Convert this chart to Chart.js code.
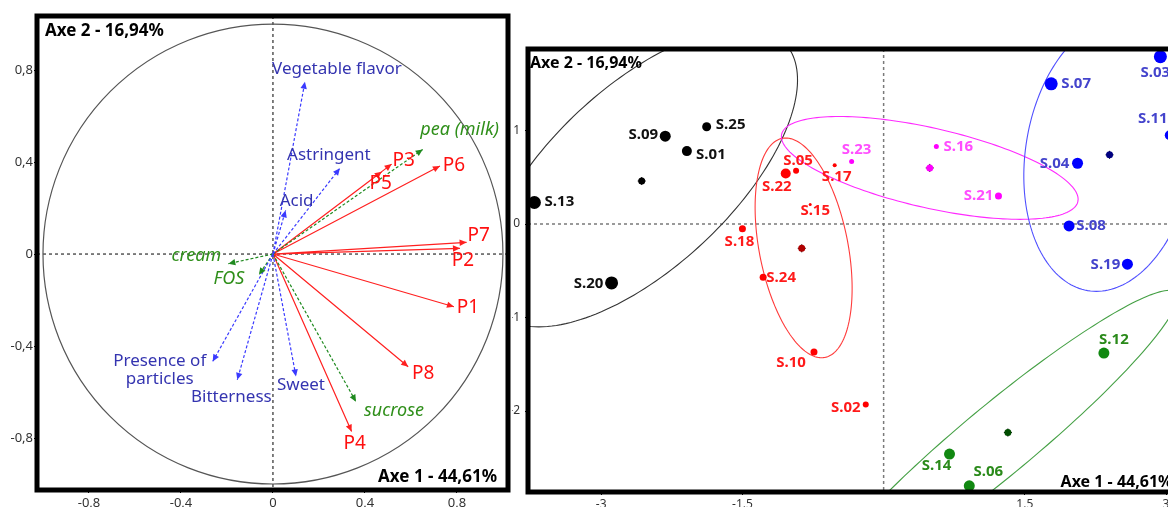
<!DOCTYPE html>
<html>
<head>
<meta charset="utf-8">
<script src="https://cdn.jsdelivr.net/npm/chart.js@4.4.1/dist/chart.umd.min.js"></script>
<style>
  html, body { margin: 0; padding: 0; background: #fff; overflow: hidden; }
  body { width: 1168px; height: 507px; position: relative; }
  #corrChart { position: absolute; left: 0; top: 0; }
  #scoreChart { position: absolute; left: 512px; top: 0; }
</style>
</head>
<body>
<canvas id="corrChart" width="512" height="507"></canvas>
<canvas id="scoreChart" width="677" height="507"></canvas>
<script>
// ---- Correlation circle (variables on axes 1 and 2) ----
const productNames = ['P1', 'P2', 'P3', 'P4', 'P5', 'P6', 'P7', 'P8'];
const productX = [0.787, 0.813, 0.516, 0.342, 0.473, 0.726, 0.842, 0.588];
const productY = [-0.229, 0.025, 0.391, -0.772, 0.358, 0.383, 0.051, -0.490];

const sensoryNames = ['Vegetable flavor', 'Astringent', 'Acid', 'Sweet', 'Bitterness', 'Presence of\nparticles'];
const sensoryX = [0.139, 0.291, 0.055, 0.100, -0.155, -0.262];
const sensoryY = [0.749, 0.373, 0.190, -0.532, -0.547, -0.467];

const ingredientNames = ['pea (milk)', 'sucrose', 'cream', 'FOS'];
const ingredientX = [0.651, 0.361, -0.194, -0.061];
const ingredientY = [0.455, -0.642, -0.042, -0.090];

const corrTicks = [-0.8, -0.4, 0, 0.4, 0.8];
const corrTickLabels = ['-0,8', '-0,4', '0', '0,4', '0,8'];

// label placement (pixel offset of text centre from arrow tip)
const productLabelOffset = [[14, 1], [3, 12], [12, -4], [3, 12], [-1, 12], [14, 0], [12, -7], [15, 7]];
const sensoryLabelOffset = [[32, -13], [-11, -13], [11, -9], [5, 9], [-6, 17], [-53, 9]];
const ingredientLabelOffset = [[37, -20], [38, 9], [-32, -8], [-30, 4]];

// ---- Individuals map (samples on axes 1 and 2) ----
const sampleNames = ['S.01', 'S.02', 'S.03', 'S.04', 'S.05', 'S.06', 'S.07', 'S.08', 'S.09', 'S.10',
  'S.11', 'S.12', 'S.13', 'S.14', 'S.15', 'S.16', 'S.17', 'S.18', 'S.19', 'S.20',
  'S.21', 'S.22', 'S.23', 'S.24', 'S.25'];
const sampleX = [-2.09, -0.19, 2.94, 2.06, -0.93, 0.91, 1.78, 1.97, -2.32, -0.74,
  3.04, 2.34, -3.71, 0.70, -0.78, 0.56, -0.52, -1.50, 2.59, -2.89,
  1.22, -1.04, -0.34, -1.28, -1.88];
const sampleY = [0.78, -1.93, 1.79, 0.65, 0.57, -2.80, 1.50, -0.02, 0.94, -1.37,
  0.95, -1.38, 0.23, -2.46, 0.21, 0.83, 0.63, -0.05, -0.43, -0.63,
  0.30, 0.54, 0.67, -0.57, 1.04];
// cluster of each sample: 0 black, 1 red, 2 magenta, 3 blue, 4 green
const sampleGroup = [0, 1, 3, 3, 1, 4, 3, 3, 0, 1,
  3, 4, 0, 4, 1, 2, 1, 1, 3, 0,
  2, 1, 2, 1, 0];

const centroidX = [-2.57, -0.87, 0.49, 2.40, 1.32];
const centroidY = [0.46, -0.26, 0.60, 0.74, -2.23];

// confidence ellipses: centre and two conjugate semi-diameters (a along x, b)
const ellipseCX = [-2.58, -0.85, 0.49, 2.40, 1.22];
const ellipseCY = [0.50, -0.255, 0.60, 0.74, -2.31];
const ellipseAX = [1.265, 0.479, 1.25, 0.90, 0.58];
const ellipseBX = [1.083, -0.19, -0.96, 0.14, 1.81];
const ellipseBY = [1.60, 1.175, 0.55, 1.46, 1.60];

const scoreXTicks = [-3, -1.5, 1.5, 3];
const scoreXTickLabels = ['-3', '-1.5', '1.5', '3'];
const scoreYTicks = [-2, -1, 0, 1];
const scoreYTickLabels = ['-2', '-1', '0', '1'];

// styles
const sampleRadius = [5, 3, 6.5, 5.5, 3, 5.5, 6.5, 5.5, 5.5, 3.5,
  5, 5.5, 6.5, 5.5, 1.5, 2.5, 2, 3.5, 5.5, 6.5,
  3.5, 5, 2.5, 3.5, 4.5];
const sampleLabelOffset = [[24, 4], [-20, 3], [-5, 16], [-23, 0], [2, -10], [19, -14], [25, 0], [22, 0], [-22, -1], [-23, 11],
  [-17, -16], [10, -13], [25, -1], [-13, 12], [5, 6], [22, 0], [2, 12], [-3, 13], [-22, 0], [-23, 1],
  [-20, 0], [-9, 13], [5, -12], [18, 0], [24, -2]];
const groupDotColor = ['#000000', '#ff0000', '#ff00ff', '#0000ff', '#118811'];
const groupLabelColor = ['#111111', '#ff1a1a', '#ff4dff', '#4444cc', '#2a8a1a'];
const groupEllipseColor = ['#333333', '#ff3b3b', '#ff2aff', '#5050ff', '#45a045'];
const centroidColor = ['#000000', '#b00000', '#ff00ff', '#000080', '#004d00'];

Chart.defaults.font.family = '"Noto Sans", sans-serif';
Chart.defaults.animation = false;

function vectorSegments(xs, ys) {
  const pts = [];
  xs.forEach((x, i) => {
    pts.push({ x: 0, y: 0 }, { x: x, y: ys[i] }, { x: null, y: null });
  });
  return pts;
}

function drawText(ctx, text, x, y, font, color, align) {
  ctx.save();
  ctx.font = font;
  ctx.fillStyle = color;
  ctx.textAlign = align || 'center';
  ctx.textBaseline = 'middle';
  const lines = text.split('\n');
  const lh = 18;
  const y0 = y - (lines.length - 1) * lh / 2;
  lines.forEach((l, i) => ctx.fillText(l, x, y0 + i * lh));
  ctx.restore();
}

function drawFrame(ctx, area) {
  ctx.save();
  ctx.strokeStyle = '#000';
  ctx.lineWidth = 5;
  ctx.strokeRect(area.left, area.top, area.right - area.left, area.bottom - area.top);
  ctx.restore();
}

const arrowGroups = [
  { names: sensoryNames, xs: sensoryX, ys: sensoryY, offs: sensoryLabelOffset, color: '#3a3aff', text: '#3434b0', font: '17px "Noto Sans"', dash: [3, 2] },
  { names: ingredientNames, xs: ingredientX, ys: ingredientY, offs: ingredientLabelOffset, color: '#1f8a1f', text: '#2f8f1a', font: 'italic 18px "Noto Sans"', dash: [3, 2] },
  { names: productNames, xs: productX, ys: productY, offs: productLabelOffset, color: '#ff2020', text: '#ff1010', font: '19px "Noto Sans"', dash: [] }
];

const circlePlugin = {
  id: 'circlePlugin',
  beforeDatasetsDraw(chart) {
    const { ctx, chartArea: a, scales: { x, y } } = chart;
    const cx = x.getPixelForValue(0), cy = y.getPixelForValue(0);
    ctx.save();
    ctx.strokeStyle = '#000';
    ctx.lineWidth = 1;
    ctx.setLineDash([3, 3]);
    ctx.beginPath();
    ctx.moveTo(cx, a.top); ctx.lineTo(cx, a.bottom);
    ctx.moveTo(a.left, cy); ctx.lineTo(a.right, cy);
    ctx.stroke();
    ctx.setLineDash([]);
    ctx.strokeStyle = '#555';
    ctx.lineWidth = 1.2;
    ctx.beginPath();
    ctx.ellipse(cx, cy, x.getPixelForValue(1) - cx, cy - y.getPixelForValue(1), 0, 0, Math.PI * 2);
    ctx.stroke();
    ctx.restore();
  },
  afterDatasetsDraw(chart) {
    const { ctx, scales: { x, y } } = chart;
    const ox = x.getPixelForValue(0), oy = y.getPixelForValue(0);
    arrowGroups.forEach(g => {
      g.xs.forEach((vx, i) => {
        const tx = x.getPixelForValue(vx), ty = y.getPixelForValue(g.ys[i]);
        const ang = Math.atan2(ty - oy, tx - ox);
        const L = 7, W = 3.2;
        ctx.save();
        ctx.fillStyle = g.color;
        ctx.beginPath();
        ctx.moveTo(tx, ty);
        ctx.lineTo(tx - L * Math.cos(ang) - W * Math.sin(ang), ty - L * Math.sin(ang) + W * Math.cos(ang));
        ctx.lineTo(tx - L * Math.cos(ang) + W * Math.sin(ang), ty - L * Math.sin(ang) - W * Math.cos(ang));
        ctx.closePath();
        ctx.fill();
        ctx.restore();
        drawText(ctx, g.names[i], tx + g.offs[i][0], ty + g.offs[i][1], g.font, g.text);
      });
    });
  },
  afterDraw(chart) {
    const { ctx, chartArea: a } = chart;
    drawFrame(ctx, a);
    drawText(ctx, 'Axe 2 - 16,94%', a.left + 8, a.top + 15, 'bold 17px "Noto Sans"', '#000', 'left');
    drawText(ctx, 'Axe 1 - 44,61%', a.right - 11, a.bottom - 13, 'bold 17px "Noto Sans"', '#000', 'right');
  }
};

new Chart(document.getElementById('corrChart'), {
  type: 'scatter',
  data: {
    datasets: arrowGroups.map(g => ({
      data: vectorSegments(g.xs, g.ys),
      showLine: true,
      spanGaps: false,
      borderColor: g.color,
      borderWidth: 1.2,
      borderDash: g.dash,
      pointRadius: 0
    }))
  },
  options: {
    responsive: false,
    devicePixelRatio: 1,
    events: [],
    layout: { padding: { top: 16, right: 4, left: 0, bottom: 0 } },
    plugins: { legend: { display: false }, tooltip: { enabled: false } },
    scales: {
      x: {
        type: 'linear', min: -1.026, max: 1.022,
        afterBuildTicks: s => { s.ticks = corrTicks.map(v => ({ value: v })); },
        afterFit: s => { s.height = 17; },
        grid: { drawOnChartArea: false, tickLength: 3, color: '#000' },
        border: { display: false },
        ticks: { padding: 2, color: '#333', font: { size: 13 }, callback: (v, i) => corrTickLabels[i] }
      },
      y: {
        type: 'linear', min: -1.026, max: 1.035,
        afterBuildTicks: s => { s.ticks = corrTicks.map(v => ({ value: v })); },
        afterFit: s => { s.width = 37; },
        grid: { drawOnChartArea: false, tickLength: 3, color: '#000' },
        border: { display: false },
        ticks: { padding: 1, color: '#333', font: { size: 13 }, callback: (v, i) => corrTickLabels[i] }
      }
    }
  },
  plugins: [circlePlugin]
});

// ---- Individuals map ----
const scorePlugin = {
  id: 'scorePlugin',
  beforeDatasetsDraw(chart) {
    const { ctx, chartArea: a, scales: { x, y } } = chart;
    ctx.save();
    ctx.beginPath();
    ctx.rect(a.left, a.top, a.right - a.left, a.bottom - a.top);
    ctx.clip();
    const cx = x.getPixelForValue(0), cy = y.getPixelForValue(0);
    ctx.strokeStyle = '#7a7a7a';
    ctx.lineWidth = 1.5;
    ctx.setLineDash([3, 3]);
    ctx.beginPath();
    ctx.moveTo(cx, a.top); ctx.lineTo(cx, a.bottom);
    ctx.moveTo(a.left, cy); ctx.lineTo(a.right, cy);
    ctx.stroke();
    ctx.setLineDash([]);
    ellipseCX.forEach((ex, g) => {
      ctx.strokeStyle = groupEllipseColor[g];
      ctx.lineWidth = 1.1;
      ctx.beginPath();
      for (let k = 0; k <= 180; k++) {
        const t = k / 180 * Math.PI * 2;
        const px = x.getPixelForValue(ex + ellipseAX[g] * Math.cos(t) + ellipseBX[g] * Math.sin(t));
        const py = y.getPixelForValue(ellipseCY[g] + ellipseBY[g] * Math.sin(t));
        if (k === 0) ctx.moveTo(px, py); else ctx.lineTo(px, py);
      }
      ctx.stroke();
    });
    ctx.restore();
  },
  afterDatasetsDraw(chart) {
    const { ctx, scales: { x, y } } = chart;
    sampleNames.forEach((name, i) => {
      const px = x.getPixelForValue(sampleX[i]), py = y.getPixelForValue(sampleY[i]);
      drawText(ctx, name, px + sampleLabelOffset[i][0], py + sampleLabelOffset[i][1],
        'bold 15px "Noto Sans"', groupLabelColor[sampleGroup[i]]);
    });
  },
  afterDraw(chart) {
    const { ctx, chartArea: a } = chart;
    drawFrame(ctx, a);
    drawText(ctx, 'Axe 2 - 16,94%', a.left + 2, a.top + 14, 'bold 16px "Noto Sans"', '#000', 'left');
    drawText(ctx, 'Axe 1 - 44,61%', a.right - 10, a.bottom - 10, 'bold 16px "Noto Sans"', '#000', 'right');
  }
};

const groupDatasets = groupDotColor.map((col, g) => {
  const idx = sampleNames.map((_, i) => i).filter(i => sampleGroup[i] === g);
  return {
    data: idx.map(i => ({ x: sampleX[i], y: sampleY[i] })),
    pointRadius: idx.map(i => sampleRadius[i]),
    pointBackgroundColor: col,
    pointBorderWidth: 0,
    showLine: false
  };
});

new Chart(document.getElementById('scoreChart'), {
  type: 'scatter',
  data: {
    datasets: [
      ...groupDatasets,
      {
        data: centroidX.map((cx, g) => ({ x: cx, y: centroidY[g] })),
        pointRadius: 3.5,
        pointBackgroundColor: centroidColor,
        pointBorderWidth: 0
      },
      {
        data: centroidX.map((cx, g) => ({ x: cx, y: centroidY[g] })),
        pointStyle: 'cross',
        pointRadius: 4,
        pointBorderColor: '#000',
        pointBorderWidth: 1
      }
    ]
  },
  options: {
    responsive: false,
    devicePixelRatio: 1,
    events: [],
    layout: { padding: { top: 49, right: 4, left: 0, bottom: 0 } },
    plugins: { legend: { display: false }, tooltip: { enabled: false } },
    scales: {
      x: {
        type: 'linear', min: -3.778, max: 3.175,
        afterBuildTicks: s => { s.ticks = scoreXTicks.map(v => ({ value: v })); },
        afterFit: s => { s.height = 15; },
        grid: { drawOnChartArea: false, tickLength: 3, color: '#000' },
        border: { display: false },
        ticks: { padding: 2, color: '#333', font: { size: 12 }, callback: (v, i) => scoreXTickLabels[i] }
      },
      y: {
        type: 'linear', min: -2.866, max: 1.872,
        afterBuildTicks: s => { s.ticks = scoreYTicks.map(v => ({ value: v })); },
        afterFit: s => { s.width = 16; },
        grid: { drawOnChartArea: false, tickLength: 3, color: '#000' },
        border: { display: false },
        ticks: { padding: 5, color: '#333', font: { size: 12 }, callback: (v, i) => scoreYTickLabels[i] }
      }
    }
  },
  plugins: [scorePlugin]
});
</script>
</body>
</html>
